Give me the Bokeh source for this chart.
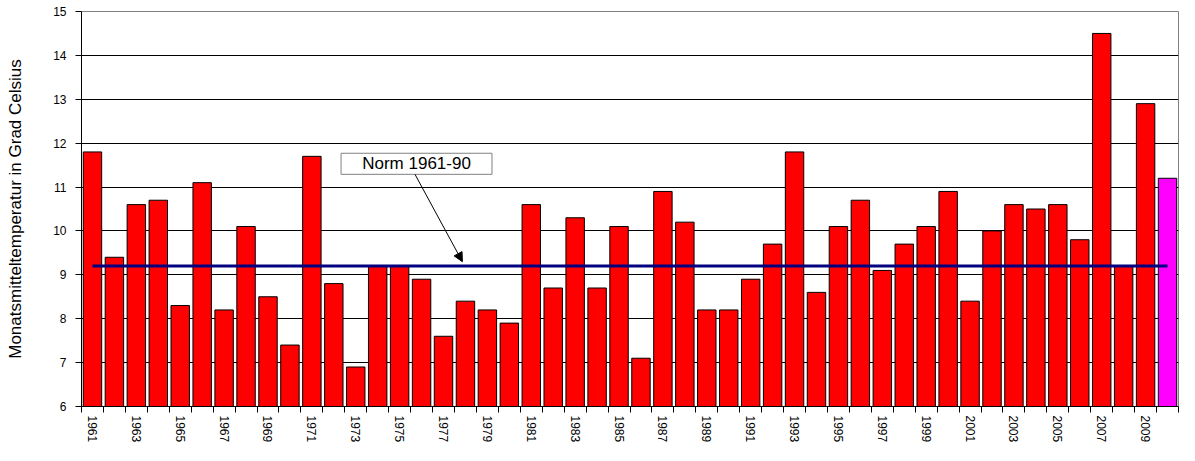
import math
from bokeh.plotting import figure
from bokeh.models import FixedTicker, Range1d, Label, BoxAnnotation, Arrow, NormalHead, ColumnDataSource
from bokeh.embed import file_html
from bokeh.resources import INLINE

# ---- data ----
years = list(range(1961, 2011))
temps = [11.8, 9.4, 10.6, 10.7, 8.3, 11.1, 8.2, 10.1, 8.5, 7.4,
         11.7, 8.8, 6.9, 9.2, 9.2, 8.9, 7.6, 8.4, 8.2, 7.9,
         10.6, 8.7, 10.3, 8.7, 10.1, 7.1, 10.9, 10.2, 8.2, 8.2,
         8.9, 9.7, 11.8, 8.6, 10.1, 10.7, 9.1, 9.7, 10.1, 10.9,
         8.4, 10.0, 10.6, 10.5, 10.6, 9.8, 14.5, 9.2, 12.9, 11.2]
norm_value = 9.2
norm_text = "Norm 1961-90"
y_label = "Monatsmitteltemperatur in Grad Celsius"
label_years = years[::2]
y_ticks = list(range(6, 16))

# ---- styles ----
colors = ["#FF0000"] * (len(years) - 1) + ["#FF00FF"]
FONT = "Liberation Sans"

p = figure(width=1179, height=445, output_backend="svg", toolbar_location=None,
           x_range=Range1d(years[0] - 0.5, years[-1] + 0.5),
           y_range=Range1d(6, 15),
           min_border_left=81, min_border_right=1, min_border_top=11, min_border_bottom=36)

p.background_fill_color = "white"
p.border_fill_color = "white"
p.outline_line_color = "#808080"
p.outline_line_width = 1

src = ColumnDataSource(dict(x=years, top=temps, color=colors))
p.vbar(x="x", top="top", bottom=6, width=0.84, source=src,
       fill_color="color", line_color="black", line_width=1)

p.line(x=[years[0], years[-1]], y=[norm_value, norm_value], line_color="#000080", line_width=3)

# axes
p.xgrid.visible = False
p.ygrid.grid_line_color = "black"
p.ygrid.grid_line_width = 1

xa = p.xaxis[0]
xa.ticker = FixedTicker(ticks=label_years, minor_ticks=[y - 0.5 for y in years] + [years[-1] + 0.5])
xa.major_tick_line_color = None
xa.minor_tick_line_color = "black"
xa.minor_tick_out = 6
xa.minor_tick_in = 0
xa.axis_line_color = "black"
xa.major_label_orientation = -math.pi / 2
xa.major_label_text_font = FONT
xa.major_label_text_font_size = "12px"
xa.major_label_text_color = "black"
xa.major_label_standoff = 3

ya = p.yaxis[0]
ya.ticker = FixedTicker(ticks=y_ticks)
ya.minor_tick_line_color = None
ya.major_tick_out = 6
ya.major_tick_in = 0
ya.major_tick_line_color = "black"
ya.axis_line_color = "black"
ya.major_label_text_font = FONT
ya.major_label_text_font_size = "12px"
ya.major_label_text_color = "black"
ya.major_label_standoff = 9
ya.axis_label = y_label
ya.axis_label_text_font = FONT
ya.axis_label_text_font_size = "17px"
ya.axis_label_text_font_style = "normal"
ya.axis_label_text_color = "black"
ya.axis_label_standoff = 25

# annotation
box = BoxAnnotation(left=1972.33, right=1979.21, bottom=11.29, top=11.77,
                    fill_color="white", fill_alpha=1.0, line_color="#808080",
                    line_alpha=1.0, line_width=1, line_dash="solid")
p.add_layout(box)
p.add_layout(Label(x=1975.77, y=11.53, text=norm_text, text_align="center",
                   text_baseline="middle", text_font=FONT, text_font_size="17px",
                   text_color="black"))
p.add_layout(Arrow(end=NormalHead(size=9, fill_color="black", line_color="black"),
                   x_start=1975.7, y_start=11.29, x_end=1977.86, y_end=9.30,
                   line_color="black", line_width=1))

open("out.html", "w").write(file_html(p, INLINE))
